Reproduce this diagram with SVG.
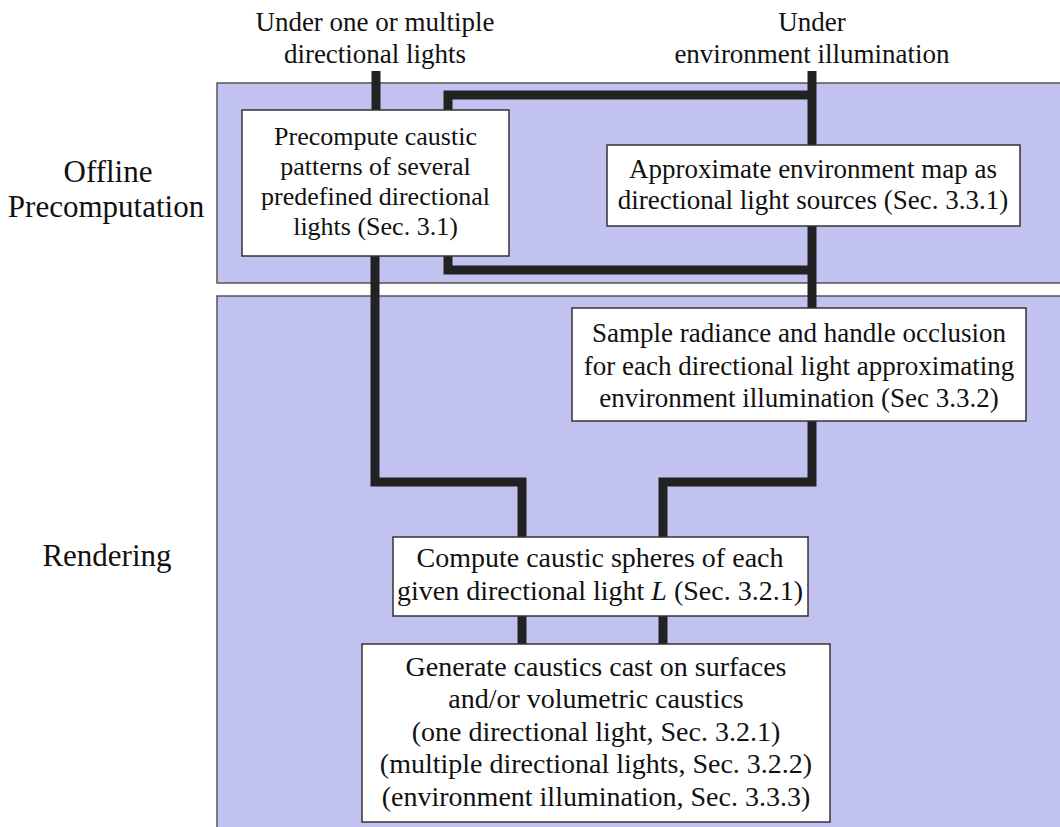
<svg xmlns="http://www.w3.org/2000/svg" width="1060" height="827" viewBox="0 0 1060 827">
<style>
.panel{fill:#c2c2f0;stroke:#555;stroke-width:1.5}
.box{fill:#fff;stroke:#333;stroke-width:1.5}
.conn{fill:none;stroke:#222;stroke-width:9;stroke-linejoin:miter;stroke-linecap:butt}
.tx{font-family:'Liberation Serif','Times New Roman',serif;fill:#111;text-anchor:middle}
.lab{font-size:31px}
.hd{font-size:27px}
</style>
<rect width="1060" height="827" fill="#fff"/>
<g id="panel-offline"><rect class="panel" x="217" y="83" width="850" height="200"/></g>
<g id="panel-rendering"><rect class="panel" x="217" y="296" width="850" height="540"/></g>
<g id="labels" class="tx">
<text class="lab" x="108" y="182">Offline</text>
<text class="lab" x="106" y="217">Precomputation</text>
<text class="lab" x="107" y="566">Rendering</text>
<text class="hd" x="375" y="31">Under one or multiple</text>
<text class="hd" x="375" y="63">directional lights</text>
<text class="hd" x="812" y="31">Under</text>
<text class="hd" x="812" y="63">environment illumination</text>
</g>
<g id="connectors">
<path class="conn" d="M376 71 V110 M375 256 V482 H522 V537"/>
<path class="conn" d="M812 71 V482 H663 V537"/>
<path class="conn" d="M808 95 H448 V270 H812"/>
<path class="conn" d="M522 616 V644"/>
<path class="conn" d="M663 616 V644"/>
</g>
<g id="node-precompute" class="tx" font-size="26">
<rect class="box" x="242" y="110" width="267" height="146"/>
<text x="375.5" y="145">Precompute caustic</text>
<text x="375.5" y="175">patterns of several</text>
<text x="375.5" y="205">predefined directional</text>
<text x="375.5" y="235">lights (Sec. 3.1)</text>
</g>
<g id="node-approximate" class="tx" font-size="27">
<rect class="box" x="607" y="145" width="413" height="81"/>
<text x="813" y="178">Approximate environment map as</text>
<text x="813" y="209">directional light sources (Sec. 3.3.1)</text>
</g>
<g id="node-sample" class="tx" font-size="27">
<rect class="box" x="572" y="308" width="454" height="113"/>
<text x="799" y="342">Sample radiance and handle occlusion</text>
<text x="799" y="375">for each directional light approximating</text>
<text x="799" y="407">environment illumination (Sec 3.3.2)</text>
</g>
<g id="node-compute" class="tx" font-size="28">
<rect class="box" x="393" y="537" width="415" height="79"/>
<text x="600" y="567">Compute caustic spheres of each</text>
<text x="600" y="600">given directional light<tspan font-style="italic"> L</tspan> (Sec. 3.2.1)</text>
</g>
<g id="node-generate" class="tx" font-size="28">
<rect class="box" x="362" y="644" width="468" height="178"/>
<text x="596" y="676">Generate caustics cast on surfaces</text>
<text x="596" y="708">and/or volumetric caustics</text>
<text x="596" y="741">(one directional light, Sec. 3.2.1)</text>
<text x="596" y="773">(multiple directional lights, Sec. 3.2.2)</text>
<text x="596" y="806">(environment illumination, Sec. 3.3.3)</text>
</g>
</svg>
